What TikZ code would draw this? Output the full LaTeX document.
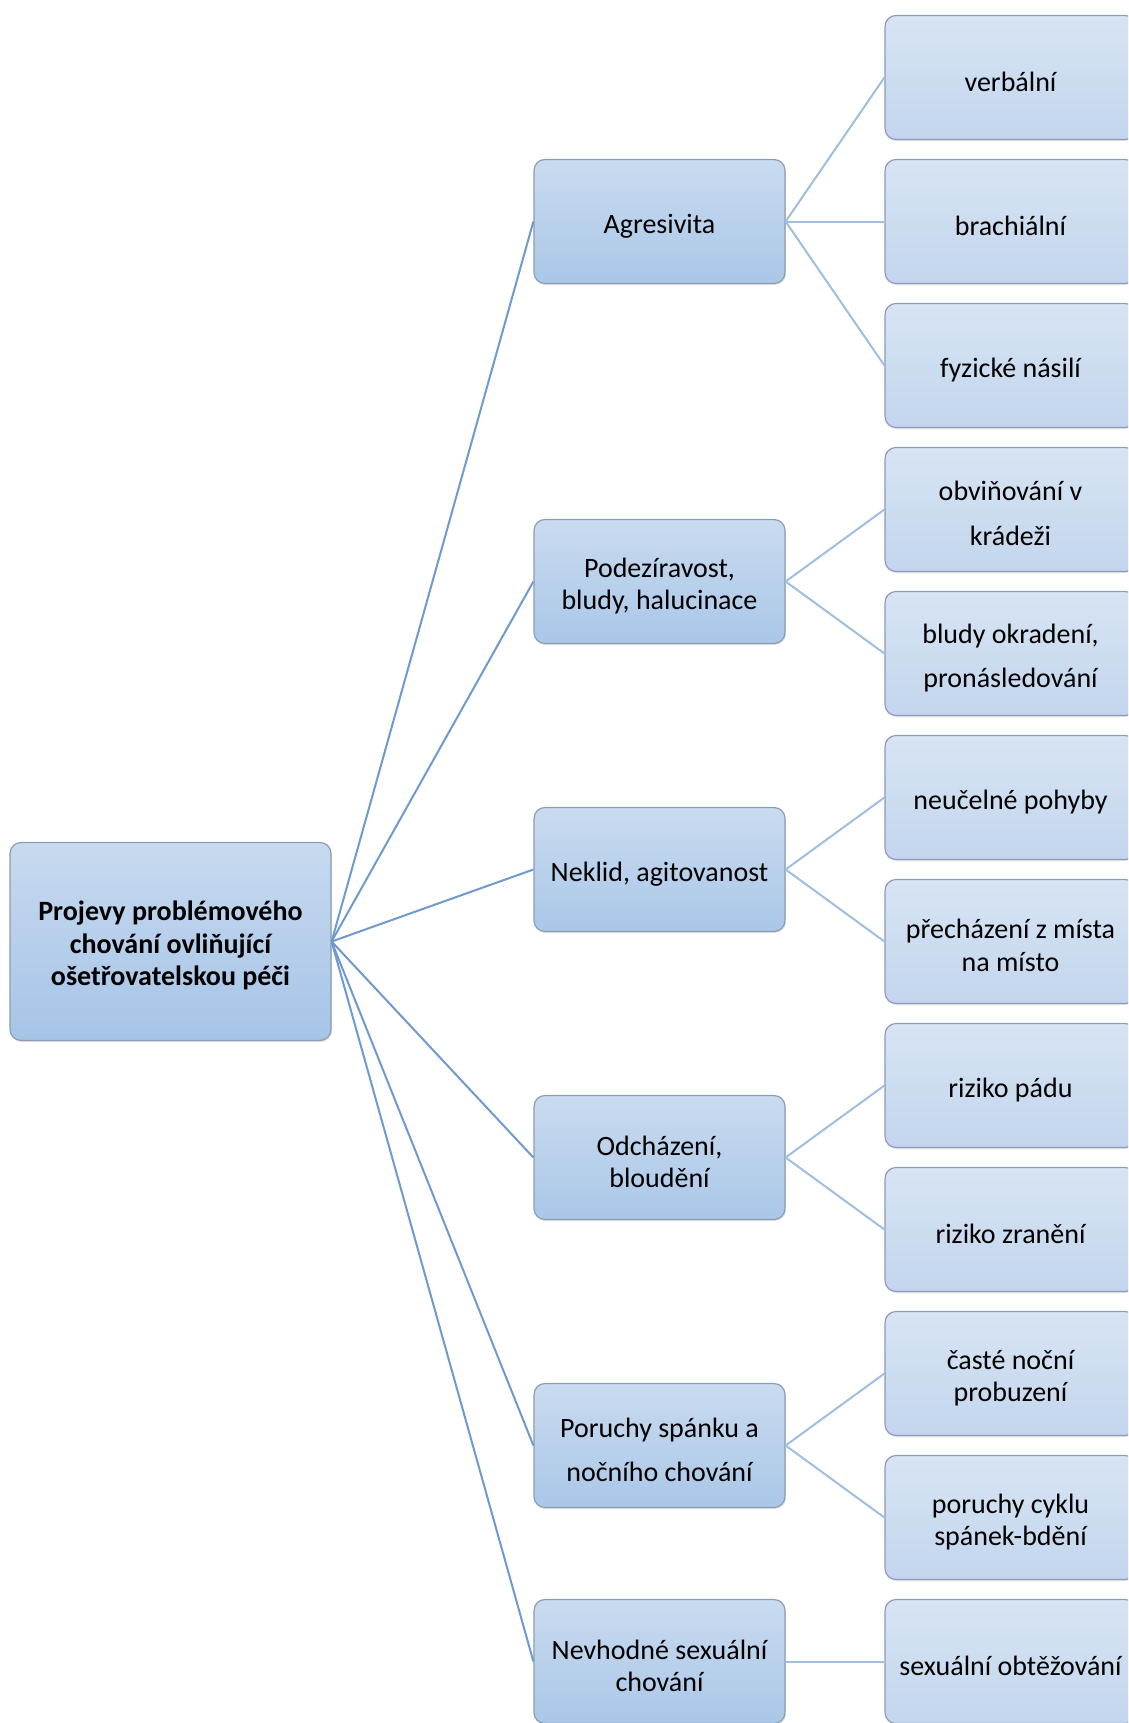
\documentclass[tikz,border=0pt]{standalone}
\usepackage{fontspec}
\setmainfont{Carlito}
\usetikzlibrary{shadows}
\definecolor{rootline}{HTML}{6F9AD0}
\definecolor{leafline}{HTML}{A0BEE2}
\definecolor{boxedge}{HTML}{8C9DB3}
\def\vspacing{144}
\def\vstart{77.5}
\def\midx{659.5}
\def\leafx{1010.5}
\def\lift{\rule{0pt}{28pt}}
\tikzset{
    box/.style={draw=boxedge, line width=1.2pt, rounded corners=11pt, align=center,
        font=\fontsize{28}{32}\selectfont, inner sep=4pt,
        drop shadow={opacity=0.2, shadow xshift=1pt, shadow yshift=-1.5pt}},
    rootbox/.style={box, minimum width=321pt, minimum height=198pt,
        top color=rootTop, bottom color=rootBot, font=\fontsize{28}{32.5}\selectfont\bfseries},
    midbox/.style={box, minimum width=251pt, minimum height=124pt,
        top color=midTop, bottom color=midBot},
    leafbox/.style={box, minimum width=251pt, minimum height=124pt,
        top color=leafTop, bottom color=leafBot},
    link/.style={line width=2pt, leafline},
    rootlink/.style={line width=2pt, rootline}
}
\definecolor{rootTop}{HTML}{C7DAEF}
\definecolor{rootBot}{HTML}{A6C4E7}
\definecolor{midTop}{HTML}{C9DBEF}
\definecolor{midBot}{HTML}{AAC7E8}
\definecolor{leafTop}{HTML}{D7E4F3}
\definecolor{leafBot}{HTML}{C3D6EE}
\newcommand{\leaf}[4][32]{
    \node[leafbox, font=\fontsize{28}{#1}\selectfont] (#2) at (\leafx, {\vstart+#3*\vspacing}) {\lift#4};
}
\newcommand{\branch}[4][32]{
    \node[midbox, font=\fontsize{28}{#1}\selectfont] (#2) at (\midx, {\vstart+#3*\vspacing}) {\lift#4};
    \draw[rootlink] (root.east) -- (#2.west);
}
\newcommand{\twig}[2]{
    \draw[link] (#1.east) -- (#2.west);
}

\begin{document}
\begin{tikzpicture}[x=1pt, y=-1pt]
    \useasboundingbox (0,0) rectangle (1128,1723);
    \clip (0,0) rectangle (1128,1723);
    \fill[white] (0,0) rectangle (1128,1723);
    \node[rootbox] (root) at (170.5, {\vstart+6*\vspacing})
        {\lift Projevy problémového\\chování ovliňující\\ošetřovatelskou péči};
    % leaves
    \leaf{verbal}{0}{verbální}
    \leaf{brach}{1}{brachiální}
    \leaf{fyz}{2}{fyzické násilí}
    \leaf[45]{kradez}{3}{obviňování v\\krádeži}
    \leaf[44]{okrad}{4}{bludy okradení,\\pronásledování}
    \leaf{pohyby}{5}{neučelné pohyby}
    \leaf[33]{misto}{6}{přecházení z místa\\na místo}
    \leaf{pad}{7}{riziko pádu}
    \leaf{zran}{8}{riziko zranění}
    \leaf{probuz}{9}{časté noční\\probuzení}
    \leaf{cyklus}{10}{poruchy cyklu\\spánek-bdění}
    \leaf{obtez}{11}{sexuální obtěžování}
    % branches
    \branch{agres}{1}{Agresivita}
    \branch{podez}{3.5}{Podezíravost,\\bludy, halucinace}
    \branch{neklid}{5.5}{Neklid, agitovanost}
    \branch{odch}{7.5}{Odcházení,\\bloudění}
    \branch[44]{spanek}{9.5}{Poruchy spánku a\\nočního chování}
    \branch{sex}{11}{Nevhodné sexuální\\chování}
    % twigs
    \twig{agres}{verbal}
    \twig{agres}{brach}
    \twig{agres}{fyz}
    \twig{podez}{kradez}
    \twig{podez}{okrad}
    \twig{neklid}{pohyby}
    \twig{neklid}{misto}
    \twig{odch}{pad}
    \twig{odch}{zran}
    \twig{spanek}{probuz}
    \twig{spanek}{cyklus}
    \twig{sex}{obtez}
\end{tikzpicture}
\end{document}
